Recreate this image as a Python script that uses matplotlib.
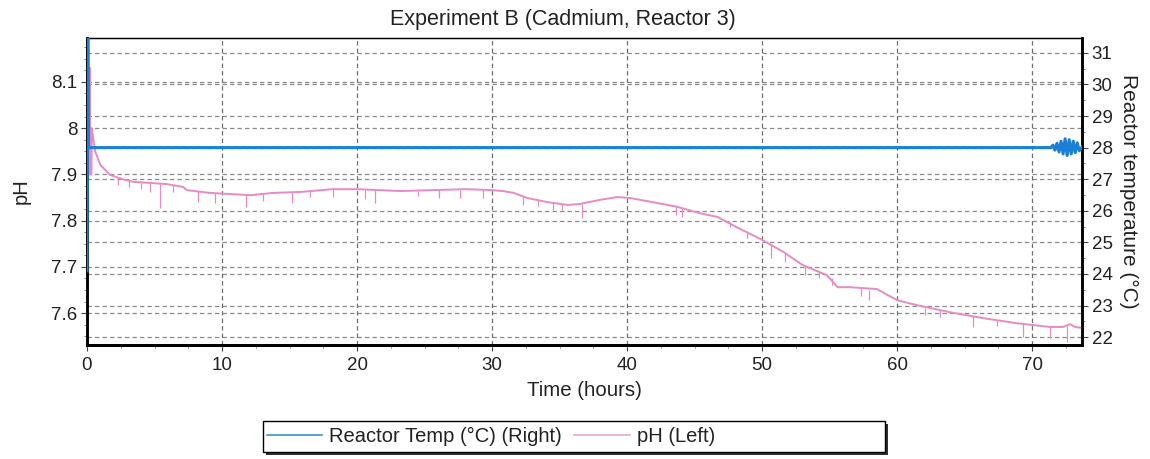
import matplotlib
matplotlib.use('Agg')
import matplotlib.pyplot as plt
from matplotlib.ticker import MultipleLocator
from matplotlib.lines import Line2D
from matplotlib.patches import Rectangle

plt.rcParams['font.family'] = ['Liberation Sans', 'DejaVu Sans']

title = "Experiment B (Cadmium, Reactor 3)"
x_label = "Time (hours)"
left_label = "pH"
right_label = "Reactor temperature (°C)"
legend_labels = ["Reactor Temp (°C) (Right)", "pH (Left)"]

x_ticks = [0, 10, 20, 30, 40, 50, 60, 70]
ph_ticks = [7.6, 7.7, 7.8, 7.9, 8.0, 8.1]
ph_tick_labels = ["7.6", "7.7", "7.8", "7.9", "8", "8.1"]
temp_ticks = [22, 23, 24, 25, 26, 27, 28, 29, 30, 31]

# pH (left axis) main trace
ph_time = [0.0, 0.16, 0.18, 0.22, 0.24, 0.33, 0.35, 0.45, 0.6, 1.0, 1.7, 2.6,
           3.4, 5.9, 7.1, 7.4, 9.1, 12.1, 13.8, 15.8, 18.2, 20.0, 23.2, 25.6,
           28.1, 30.0, 30.8, 31.6, 32.6, 34.1, 35.6, 36.5, 38.0, 39.3, 40.2,
           41.9, 43.7, 45.4, 46.7, 48.1, 49.9, 51.6, 53.0, 54.8, 55.6, 56.5,
           58.5, 60.0, 61.5, 63.9, 66.4, 68.9, 71.3, 72.3, 72.8, 73.2, 73.7]
ph_vals = [7.90, 7.90, 8.13, 8.13, 7.90, 7.90, 8.00, 7.98, 7.95, 7.92, 7.899,
           7.89, 7.884, 7.879, 7.873, 7.866, 7.860, 7.855, 7.860, 7.862, 7.868,
           7.868, 7.864, 7.866, 7.868, 7.866, 7.864, 7.860, 7.849, 7.840, 7.834,
           7.836, 7.845, 7.851, 7.849, 7.840, 7.830, 7.816, 7.808, 7.786, 7.760,
           7.732, 7.704, 7.682, 7.656, 7.656, 7.652, 7.628, 7.617, 7.602, 7.589,
           7.578, 7.570, 7.570, 7.576, 7.570, 7.568]

# short downward glitches in the pH trace (time, top, bottom)
ph_dip_time = [2.3, 3.1, 4.0, 4.7, 5.4, 6.4, 8.2, 9.5, 11.8, 13.0, 15.2, 16.5,
               18.2, 20.6, 21.3, 24.5, 26.1, 27.6, 29.3, 32.3, 33.4, 34.5, 35.2,
               36.7, 43.6, 44.1, 47.6, 48.9, 50.7, 51.7, 53.2, 54.2, 55.2, 57.3,
               57.9, 62.1, 63.2, 65.6, 67.4, 69.3, 71.3, 72.6]
ph_dip_top = [7.892, 7.886, 7.882, 7.881, 7.879, 7.876, 7.864, 7.859, 7.855,
              7.857, 7.861, 7.864, 7.868, 7.867, 7.866, 7.865, 7.866, 7.867,
              7.867, 7.852, 7.846, 7.838, 7.836, 7.837, 7.831, 7.827, 7.798,
              7.773, 7.750, 7.730, 7.702, 7.690, 7.675, 7.655, 7.650, 7.612,
              7.607, 7.594, 7.586, 7.577, 7.570, 7.572]
ph_dip_bottom = [7.878, 7.872, 7.868, 7.862, 7.827, 7.862, 7.840, 7.838, 7.830,
                 7.843, 7.838, 7.852, 7.851, 7.847, 7.838, 7.854, 7.850, 7.849,
                 7.850, 7.834, 7.832, 7.823, 7.822, 7.806, 7.812, 7.808, 7.786,
                 7.762, 7.719, 7.710, 7.682, 7.676, 7.660, 7.636, 7.628, 7.596,
                 7.592, 7.570, 7.572, 7.548, 7.546, 7.537]

# Reactor temperature (right axis)
temp_time = [0.0, 0.06, 0.12, 0.3, 2.0, 12.0, 20.0, 30.0, 40.0, 45.0, 55.0,
             66.0, 71.4, 71.55, 71.7, 71.85, 72.0, 72.15, 72.3, 72.45, 72.6,
             72.75, 72.9, 73.05, 73.2, 73.35, 73.5, 73.7]
temp_vals = [24.1, 31.6, 28.0, 28.0, 28.0, 28.0, 28.0, 28.0, 28.0, 28.0, 28.0,
             28.0, 28.0, 28.08, 27.92, 28.14, 27.86, 28.2, 27.8, 28.28, 27.75,
             28.25, 27.8, 28.2, 27.84, 28.15, 27.9, 28.02]

blue = '#1a7fd6'
pink = '#e68cc4'
text_color = '#222222'

fig = plt.figure(figsize=(11.5, 4.59), dpi=100)
ax = fig.add_axes([87/1150, 1-345/459, (1082-87)/1150, (345-38)/459])
ax2 = ax.twinx()

ph_lim = (7.531, 8.195)
temp_lim = (21.75, 31.47)
ax.set_xlim(0, 73.7)
ax.set_ylim(*ph_lim)
ax2.set_ylim(*temp_lim)

# grids (drawn on the pH axes so data sits above them)
dash = (0, (3.5, 2.5))
ax.set_axisbelow(True)
ax.grid(axis='x', which='major', color='#6e6e6e', linestyle=dash, linewidth=0.9)
ax.grid(axis='y', which='major', color='#8a8a8a', linestyle=dash, linewidth=0.9)
for t in temp_ticks:
    yv = ph_lim[0] + (t - temp_lim[0]) * (ph_lim[1] - ph_lim[0]) / (temp_lim[1] - temp_lim[0])
    ax.axhline(yv, color='#8a8a8a', linestyle=dash, linewidth=0.9, zorder=0.5)

ax.plot(ph_time, ph_vals, color=pink, linewidth=1.4, zorder=3)
ax.vlines(ph_dip_time, ph_dip_bottom, ph_dip_top, color=pink, linewidth=0.9, zorder=3)
ax2.plot(temp_time, temp_vals, color=blue, linewidth=2.2, zorder=3)

# ticks
ax.set_xticks(x_ticks)
ax.xaxis.set_minor_locator(MultipleLocator(2.5))
ax.set_yticks(ph_ticks)
ax.set_yticklabels(ph_tick_labels)
ax.yaxis.set_minor_locator(MultipleLocator(0.025))
ax2.set_yticks(temp_ticks)
ax2.yaxis.set_minor_locator(MultipleLocator(0.5))

for a in (ax, ax2):
    a.tick_params(which='major', direction='out', length=4, width=0.8,
                  labelsize=13.5, colors='#444444', labelcolor=text_color)
    a.tick_params(which='minor', direction='out', length=2.5, width=0.6, colors='#777777')
ax.tick_params(axis='x', pad=5)
ax.tick_params(axis='y', pad=3)
ax2.tick_params(axis='y', pad=3)

for a in (ax, ax2):
    a.spines['left'].set_linewidth(1.8)
    a.spines['bottom'].set_linewidth(2.0)
    a.spines['right'].set_linewidth(1.8)
    a.spines['top'].set_linewidth(0.9)

ax.set_title(title, fontsize=15.5, color=text_color, pad=9, x=(563-87)/995)
ax.set_xlabel(x_label, fontsize=14.7, color=text_color, labelpad=5)
ax.set_ylabel(left_label, fontsize=14.5, color=text_color, labelpad=15)
ax2.set_ylabel(right_label, fontsize=15, color=text_color, rotation=-90, labelpad=18)

# legend frame with shadow
x0, x1 = 263/1150, 885/1150
y0, y1 = 1-452/459, 1-421/459
fig.patches.append(Rectangle((x0 + 3/1150, y0 - 3/459), x1 - x0, y1 - y0,
                             transform=fig.transFigure, facecolor='#303030',
                             edgecolor='none', zorder=1))
fig.patches.append(Rectangle((x0, y0), x1 - x0, y1 - y0, transform=fig.transFigure,
                             facecolor='white', edgecolor='black', linewidth=1.0,
                             zorder=2))

handles = [Line2D([], [], color='#3a95c8', linewidth=1.2),
           Line2D([], [], color='#e8a8d0', linewidth=1.2)]
leg = fig.legend(handles, legend_labels, loc='center left',
                 bbox_to_anchor=(267/1150, 1-436.5/459), ncol=2, frameon=False,
                 fontsize=14.5, handlelength=2.75, handletextpad=0.35,
                 columnspacing=0.6, borderpad=0.0, borderaxespad=0)
leg.set_zorder(3)
for txt in leg.get_texts():
    txt.set_color(text_color)

fig.savefig('out.png', dpi=100)
